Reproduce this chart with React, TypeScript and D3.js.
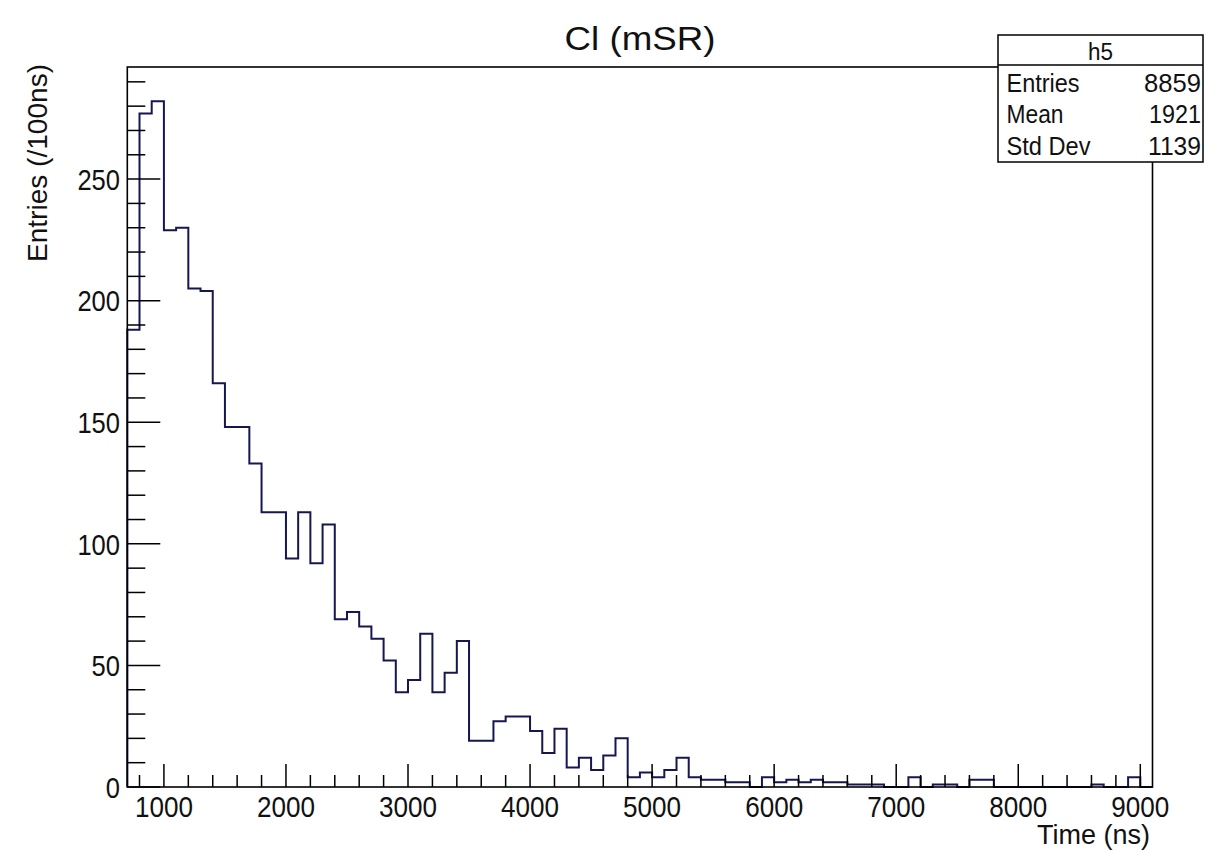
import React from "react";
import * as d3 from "d3";

// ---- data ----
const title = "Cl (mSR)";
const xTitle = "Time (ns)";
const yTitle = "Entries (/100ns)";
const binWidth = 100;
const firstBinLow = 700;
const counts = [
  188, 277, 282, 229, 230, 205, 204, 166, 148, 148,
  133, 113, 113, 94, 113, 92, 108, 69, 72, 66,
  61, 52, 39, 44, 63, 39, 47, 60, 19, 19,
  27, 29, 29, 23, 14, 24, 8, 12, 7, 13,
  20, 4, 6, 4, 7, 12, 4, 3, 3, 2,
  2, 0, 4, 2, 3, 2, 3, 2, 2, 1,
  1, 1, 0, 0, 4, 0, 1, 1, 0, 3,
  3, 0, 0, 0, 0, 0, 0, 0, 0, 1,
  0, 0, 4, 0,
];
const xMajorTicks = [1000, 2000, 3000, 4000, 5000, 6000, 7000, 8000, 9000];
const yMajorTicks = [0, 50, 100, 150, 200, 250];
const statsName = "h5";
const statsLabels = ["Entries", "Mean", "Std Dev"];
const statsValues = ["8859", "1921", "1139"];

const W = 1211;
const H = 852;
const FONT = "'Liberation Sans', Arial, Helvetica, sans-serif";

export default function App() {
  const x = d3.scaleLinear().domain([700, 9100]).range([127.3, 1152.5]);
  const y = d3.scaleLinear().domain([0, 296.1]).range([787, 67]);

  const pts: [number, number][] = [];
  pts.push([firstBinLow, 0]);
  counts.forEach((c, i) => {
    const lo = firstBinLow + i * binWidth;
    pts.push([lo, c]);
    pts.push([lo + binWidth, c]);
  });
  pts.push([firstBinLow + counts.length * binWidth, 0]);
  const line = d3
    .line<[number, number]>()
    .x((d) => x(d[0]))
    .y((d) => y(d[1]));

  const xMinor = d3.range(800, 9100, 200).filter((v) => v % 1000 !== 0);
  const yMinor = d3.range(0, 296, 10).filter((v) => v % 50 !== 0);

  const [x0, x1] = x.range();
  const [yb, yt] = y.range();

  return (
    <svg
      width={W}
      height={H}
      style={{ position: "absolute", left: 0, top: 0, background: "#fff" }}
      fontFamily={FONT}
    >
      <rect x={0} y={0} width={W} height={H} fill="#fff" />
      {/* histogram */}
      <path d={line(pts) || ""} fill="none" stroke="#161650" strokeWidth={2} />
      {/* frame */}
      <rect
        x={x0}
        y={yt}
        width={x1 - x0}
        height={yb - yt}
        fill="none"
        stroke="#000"
        strokeWidth={1.6}
      />
      {/* x ticks */}
      {xMajorTicks.map((v) => (
        <g key={"xm" + v}>
          <line x1={x(v)} x2={x(v)} y1={yb} y2={yb - 23} stroke="#000" strokeWidth={1.5} />
          <text
            x={x(v)}
            y={817}
            textAnchor="middle"
            fontSize={30}
            textLength={String(v).length * 14.5}
            lengthAdjust="spacingAndGlyphs"
            fill="#111"
          >
            {v}
          </text>
        </g>
      ))}
      {xMinor.map((v) => (
        <line key={"xn" + v} x1={x(v)} x2={x(v)} y1={yb} y2={yb - 12} stroke="#000" strokeWidth={1.5} />
      ))}
      {/* y ticks */}
      {yMajorTicks.map((v) => (
        <g key={"ym" + v}>
          <line x1={x0} x2={x0 + 33} y1={y(v)} y2={y(v)} stroke="#000" strokeWidth={1.5} />
          <text
            x={120}
            y={y(v) + 10.8}
            textAnchor="end"
            fontSize={30}
            textLength={String(v).length * 14.2}
            lengthAdjust="spacingAndGlyphs"
            fill="#111"
          >
            {v}
          </text>
        </g>
      ))}
      {yMinor.map((v) => (
        <line key={"yn" + v} x1={x0} x2={x0 + 18} y1={y(v)} y2={y(v)} stroke="#000" strokeWidth={1.5} />
      ))}
      {/* titles */}
      <text
        x={640}
        y={50}
        textAnchor="middle"
        fontSize={34}
        textLength={151}
        lengthAdjust="spacingAndGlyphs"
        fill="#111"
      >
        {title}
      </text>
      <text
        x={1150}
        y={844}
        textAnchor="end"
        fontSize={28}
        textLength={113}
        lengthAdjust="spacingAndGlyphs"
        fill="#111"
      >
        {xTitle}
      </text>
      <text
        transform={`translate(47,64) rotate(-90)`}
        textAnchor="end"
        fontSize={28}
        textLength={198}
        lengthAdjust="spacingAndGlyphs"
        fill="#111"
      >
        {yTitle}
      </text>
      {/* stats box */}
      <g>
        <rect x={998} y={35} width={205} height={127} fill="#fff" stroke="#000" strokeWidth={1.5} />
        <line x1={998} x2={1203} y1={65} y2={65} stroke="#000" strokeWidth={1.5} />
        <text x={1100.5} y={60} textAnchor="middle" fontSize={23} textLength={25} lengthAdjust="spacingAndGlyphs" fill="#111">
          {statsName}
        </text>
        {statsLabels.map((lab, i) => (
          <g key={lab}>
            <text
              x={1006.5}
              y={91.7 + i * 31.7}
              fontSize={25}
              textLength={[73, 57, 84][i]}
              lengthAdjust="spacingAndGlyphs"
              fill="#111"
            >
              {lab}
            </text>
            <text
              x={1201}
              y={91.7 + i * 31.7}
              textAnchor="end"
              fontSize={25}
              textLength={[57, 52, 53][i]}
              lengthAdjust="spacingAndGlyphs"
              fill="#111"
            >
              {statsValues[i]}
            </text>
          </g>
        ))}
      </g>
    </svg>
  );
}
